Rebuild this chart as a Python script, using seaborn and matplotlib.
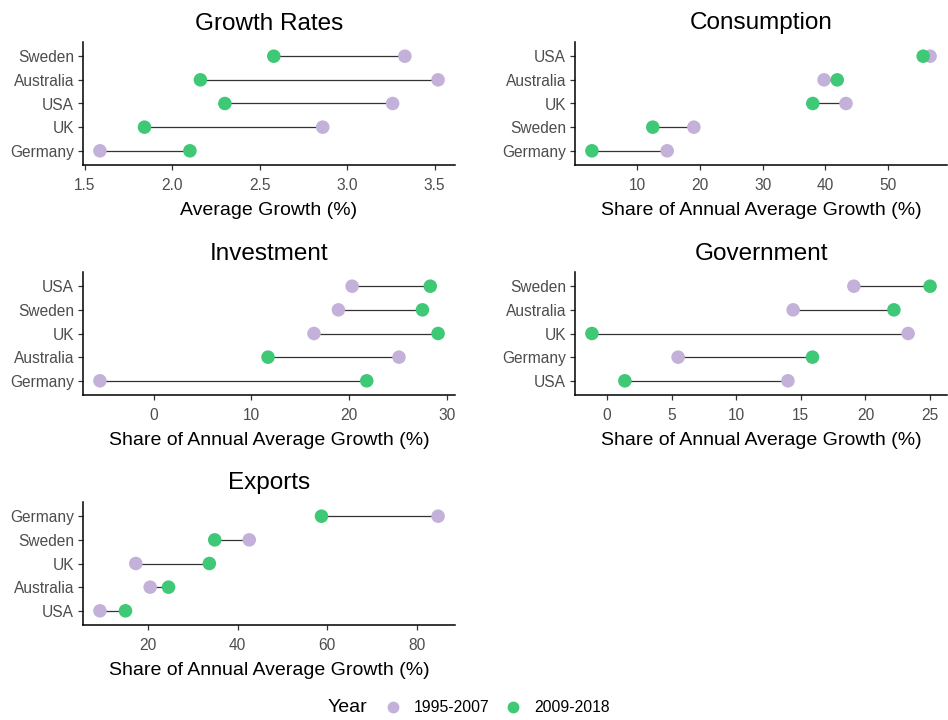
import numpy as np
import pandas as pd
import matplotlib
matplotlib.use("Agg")
import matplotlib.pyplot as plt
from matplotlib.ticker import MultipleLocator
from matplotlib.lines import Line2D
import seaborn as sns

sns.set_style("white")
plt.rcParams['font.family'] = ['Liberation Sans', 'DejaVu Sans']

period_labels = ["1995-2007", "2009-2018"]
palette = {"1995-2007": "#C3B1DA", "2009-2018": "#3FC876"}

# Each panel: countries listed top -> bottom
growth_countries = ["Sweden", "Australia", "USA", "UK", "Germany"]
growth_early = [3.33, 3.52, 3.26, 2.86, 1.585]
growth_late = [2.58, 2.16, 2.30, 1.84, 2.10]

cons_countries = ["USA", "Australia", "UK", "Sweden", "Germany"]
cons_early = [56.7, 39.8, 43.3, 19.05, 14.8]
cons_late = [55.6, 41.9, 38.0, 12.5, 2.8]

inv_countries = ["USA", "Sweden", "UK", "Australia", "Germany"]
inv_early = [20.3, 18.9, 16.4, 25.1, -5.5]
inv_late = [28.3, 27.5, 29.1, 11.7, 21.8]

gov_countries = ["Sweden", "Australia", "UK", "Germany", "USA"]
gov_early = [19.1, 14.4, 23.3, 5.5, 14.0]
gov_late = [25.0, 22.2, -1.17, 15.9, 1.38]

exp_countries = ["Germany", "Sweden", "UK", "Australia", "USA"]
exp_early = [84.7, 42.6, 17.3, 20.5, 9.3]
exp_late = [58.7, 34.9, 33.7, 24.6, 15.0]

panels = [
    ("Growth Rates", growth_countries, growth_early, growth_late, "Average Growth (%)", 0.5),
    ("Consumption", cons_countries, cons_early, cons_late, "Share of Annual Average Growth (%)", 10),
    ("Investment", inv_countries, inv_early, inv_late, "Share of Annual Average Growth (%)", 10),
    ("Government", gov_countries, gov_early, gov_late, "Share of Annual Average Growth (%)", 5),
    ("Exports", exp_countries, exp_early, exp_late, "Share of Annual Average Growth (%)", 20),
]

W, H = 948, 720
fig = plt.figure(figsize=(W / 100, H / 100), dpi=100)

col_x = [83, 575]
ax_w = 372
row_top = [42, 272, 502]
ax_h = 123

for i, (title, countries, early, late, xlabel, step) in enumerate(panels):
    r, c = divmod(i, 2)
    ax = fig.add_axes([col_x[c] / W, 1 - (row_top[r] + ax_h) / H, ax_w / W, ax_h / H])
    order = list(reversed(countries))  # bottom -> top
    ypos = {name: k for k, name in enumerate(order)}
    df = pd.DataFrame({
        "country": countries * 2,
        "value": list(early) + list(late),
        "Year": [period_labels[0]] * len(countries) + [period_labels[1]] * len(countries),
    })
    df["y"] = df["country"].map(ypos)
    wide = df.pivot(index="country", columns="Year", values="value")
    for name in countries:
        ax.plot([wide.loc[name, period_labels[0]], wide.loc[name, period_labels[1]]],
                [ypos[name], ypos[name]], color="#333333", lw=0.9, zorder=1)
    sns.scatterplot(data=df, x="value", y="y", hue="Year", palette=palette,
                    hue_order=period_labels, s=95, edgecolor="none", ax=ax,
                    legend=False, zorder=3)
    vmin, vmax = df["value"].min(), df["value"].max()
    pad = 0.05 * (vmax - vmin)
    ax.set_xlim(vmin - pad, vmax + pad)
    ax.set_ylim(-0.6, len(countries) - 0.4)
    ax.set_yticks(range(len(order)))
    ax.set_yticklabels(order)
    ax.xaxis.set_major_locator(MultipleLocator(step))
    if step < 1:
        ax.xaxis.set_major_formatter(matplotlib.ticker.FormatStrFormatter("%.1f"))
    ax.set_ylabel("")
    ax.set_xlabel(xlabel, fontsize=14, color="black", labelpad=7)
    ax.set_title(title, fontsize=17.5, pad=9, color="black")
    for s in ["top", "right"]:
        ax.spines[s].set_visible(False)
    for s in ["left", "bottom"]:
        ax.spines[s].set_color("black")
        ax.spines[s].set_linewidth(1.1)
    ax.tick_params(axis="x", which="major", pad=5.5)
    ax.tick_params(axis="y", which="major", pad=3)
    ax.tick_params(axis="both", which="major", length=3.5, width=0.9, color="#333333",
                   labelsize=11.2, labelcolor="#4D4D4D", left=True, bottom=True)

# Legend at bottom
fig.text(328 / W, 1 - 708 / H, "Year", fontsize=14, ha="left", va="center", color="black")
handles = [Line2D([0], [0], marker="o", linestyle="", markersize=8.5,
                  markerfacecolor=palette[p], markeredgecolor="none") for p in period_labels]
fig.legend(handles, period_labels, loc="center left", bbox_to_anchor=(367 / W, 1 - 708 / H),
           ncol=2, frameon=False, fontsize=11.3, handletextpad=0.6, columnspacing=0.75,
           handlelength=1.5, labelcolor="black")

fig.savefig("out.png", dpi=100, facecolor="white")
